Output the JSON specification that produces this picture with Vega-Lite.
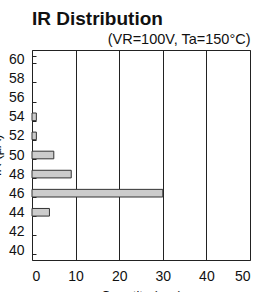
{
  "$schema": "https://vega.github.io/schema/vega-lite/v6.json",
  "width": 218,
  "height": 210,
  "autosize": "none",
  "padding": {"left": 32, "top": 50, "right": 20, "bottom": 32},
  "title": {"text": "IR Distribution", "anchor": "start", "frame": "group", "font": "Liberation Sans", "fontSize": 19, "fontWeight": "bold", "color": "#111", "offset": 2},
  "config": {"view": {"stroke": "#222", "strokeWidth": 1}},
  "data": {"values": [
    {"ir": 54, "count": 1},
    {"ir": 52, "count": 1},
    {"ir": 50, "count": 5},
    {"ir": 48, "count": 9},
    {"ir": 46, "count": 30},
    {"ir": 44, "count": 4}
  ]},
  "layer": [
    {
      "mark": {"type": "bar", "fill": "#cccccc", "stroke": "#333333", "strokeWidth": 1},
      "encoding": {
        "y": {"field": "ir", "type": "ordinal",
          "scale": {"domain": [60, 58, 56, 54, 52, 50, 48, 46, 44, 42, 40], "paddingInner": 0.6, "paddingOuter": 0.3},
          "axis": {"title": "IR (μA)", "titleFont": "Liberation Sans", "titleFontSize": 13, "titleFontWeight": "normal", "titleColor": "#111", "titlePadding": 5,
            "labelFont": "Liberation Sans", "labelFontSize": 14, "labelColor": "#111", "labelPadding": 12,
            "tickBand": "extent", "tickSize": -4, "tickColor": "#222", "domain": false, "grid": false}},
        "x": {"field": "count", "type": "quantitative",
          "scale": {"domain": [0, 50], "nice": false},
          "axis": {"orient": "bottom", "values": [0, 10, 20, 30, 40, 50], "title": "Quantity (pcs)", "titleFont": "Liberation Sans", "titleFontSize": 13, "titleFontWeight": "normal", "titleColor": "#111", "titlePadding": 6,
            "labelFont": "Liberation Sans", "labelFontSize": 14, "labelColor": "#111", "labelPadding": 9,
            "ticks": false, "domain": false, "grid": true, "gridColor": "#222", "gridOpacity": 1, "gridWidth": 1}}
      }
    },
    {
      "mark": {"type": "bar", "opacity": 0},
      "encoding": {
        "y": {"field": "ir", "type": "ordinal", "scale": {"domain": [60, 58, 56, 54, 52, 50, 48, 46, 44, 42, 40], "paddingInner": 0.6, "paddingOuter": 0.3}},
        "x": {"field": "count", "type": "quantitative", "scale": {"domain": [0, 50], "nice": false},
          "axis": {"orient": "top", "title": "(VR=100V, Ta=150°C)", "titleAnchor": "end", "titleFont": "Liberation Sans", "titleFontSize": 14.5, "titleFontWeight": "normal", "titleColor": "#111", "titlePadding": 4,
            "labels": false, "ticks": false, "domain": false, "grid": false}}
      }
    }
  ],
  "resolve": {"axis": {"x": "independent"}}
}
